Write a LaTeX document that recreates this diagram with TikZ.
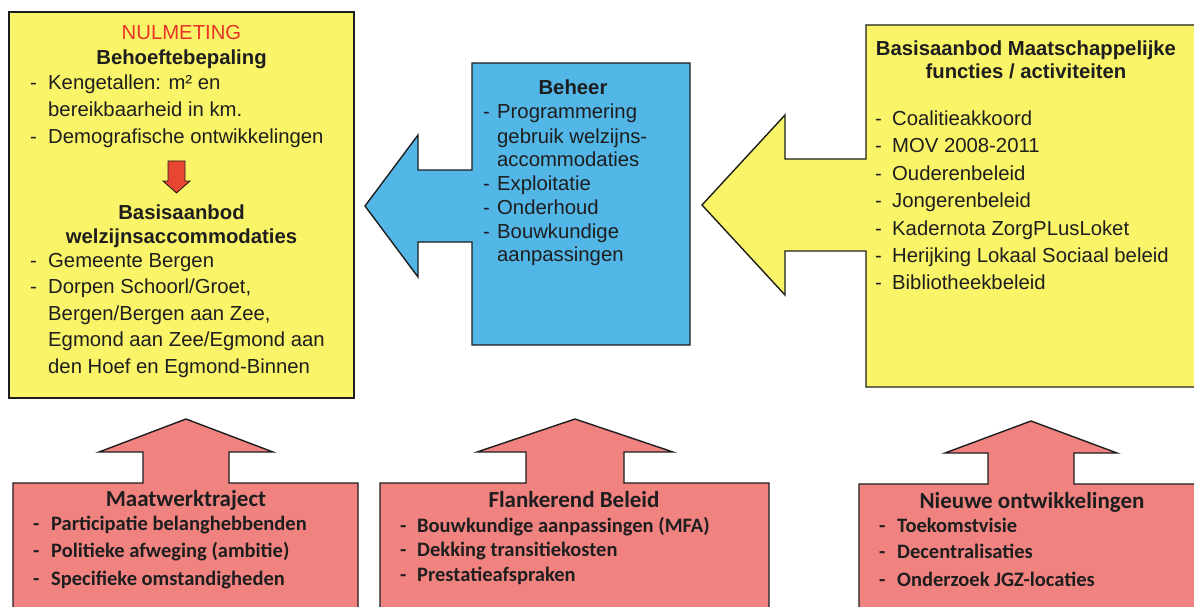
\documentclass[tikz,border=0pt]{standalone}
\usepackage{fontspec}
\setmainfont{Liberation Sans}
\newfontfamily\calib{Carlito}
\definecolor{ybox}{RGB}{250,244,104}
\definecolor{bbox}{RGB}{82,182,230}
\definecolor{pbox}{RGB}{240,130,128}
\definecolor{rarrow}{RGB}{230,70,50}
\definecolor{nulred}{RGB}{235,50,40}
\definecolor{ink}{RGB}{30,30,30}
\tikzset{
  boxshape/.style={draw=ink, line width=1.4pt, line join=miter},
  txt/.style={inner sep=0pt, anchor=base west, text=ink, font=\fontsize{20.3}{24}\selectfont},
  ctxt/.style={txt, anchor=base},
  htxt/.style={ctxt, font=\bfseries\fontsize{20.3}{24}\selectfont},
  btxt/.style={inner sep=0pt, anchor=base west, text=ink, font=\calib\bfseries\fontsize{20.5}{24}\selectfont},
  bctxt/.style={btxt, anchor=base, font=\calib\bfseries\fontsize{23}{26}\selectfont},
}
\newcommand{\bul}[2]{\makebox[#1][l]{-}#2}
\begin{document}
\begin{tikzpicture}[x=1pt,y=-1pt]
\useasboundingbox (0,0) rectangle (1194,607);
\clip (0,0) rectangle (1194,607);
% left yellow box
\draw[boxshape, fill=ybox] (9,12) rectangle (354,398);
% small red arrow
\draw[draw=ink, line width=0.8pt, fill=rarrow] (168,161) -- (185,161) -- (185,181) -- (190,181) -- (176.5,193) -- (163,181) -- (168,181) -- cycle;
% blue box with left arrow
\draw[boxshape, fill=bbox] (472,63) -- (690,63) -- (690,345) -- (472,345) -- (472,242) -- (418,242) -- (418,277) -- (365,206) -- (418,135) -- (418,170) -- (472,170) -- cycle;
% right yellow box with left arrow
\draw[boxshape, fill=ybox] (866,25) -- (1200,25) -- (1200,387) -- (866,387) -- (866,251) -- (785,251) -- (785,295) -- (702,205) -- (785,115) -- (785,159) -- (866,159) -- cycle;
% bottom pink boxes with up arrows
\draw[boxshape, fill=pbox] (13,620) -- (13,483) -- (143,483) -- (143,452) -- (99,452) -- (186,419) -- (273,452) -- (229,452) -- (229,483) -- (358,483) -- (358,620);
\draw[boxshape, fill=pbox] (380,620) -- (380,483) -- (526,483) -- (526,452) -- (477,452) -- (575,419) -- (673,452) -- (624,452) -- (624,483) -- (769,483) -- (769,620);
\draw[boxshape, fill=pbox] (859,620) -- (859,484) -- (988,484) -- (988,453) -- (945,453) -- (1031,421) -- (1117,453) -- (1074,453) -- (1074,484) -- (1200,484) -- (1200,620);

% left box text
\node[ctxt, text=nulred] (n1) at (181.5,40) {NULMETING};
\node[htxt] (n2) at (181.5,65) {Behoeftebepaling};
\node[txt] (n3) at (30,90) {\bul{18pt}{Kengetallen: m² en}};
\node[txt] (n4) at (48,116.5) {bereikbaarheid in km.};
\node[txt] (n5) at (30,143) {\bul{18pt}{Demografische ontwikkelingen}};
\node[htxt] (n6) at (181.5,219) {Basisaanbod};
\node[htxt] (n7) at (181.5,243) {welzijnsaccommodaties};
\node[txt] (n8) at (30,267) {\bul{18pt}{Gemeente Bergen}};
\node[txt] (n9) at (30,293.5) {\bul{18pt}{Dorpen Schoorl/Groet,}};
\node[txt] (n10) at (48,320) {Bergen/Bergen aan Zee,};
\node[txt] (n11) at (48,346.5) {Egmond aan Zee/Egmond aan};
\node[txt] (n12) at (48,373) {den Hoef en Egmond-Binnen};

% blue box text
\node[htxt] (b1) at (573,95) {Beheer};
\node[txt] (b2) at (483,119) {\bul{14pt}{Programmering}};
\node[txt] (b3) at (497,143) {gebruik welzijns-};
\node[txt] (b4) at (497,166) {accommodaties};
\node[txt] (b5) at (483,190) {\bul{14pt}{Exploitatie}};
\node[txt] (b6) at (483,214) {\bul{14pt}{Onderhoud}};
\node[txt] (b7) at (483,238) {\bul{14pt}{Bouwkundige}};
\node[txt] (b8) at (497,261) {aanpassingen};

% right box text
\node[htxt] (r1) at (1026,56) {Basisaanbod Maatschappelijke};
\node[htxt] (r2) at (1026,79) {functies / activiteiten};
\node[txt] (r3) at (875,126) {\bul{17pt}{Coalitieakkoord}};
\node[txt] (r4) at (875,153) {\bul{17pt}{MOV 2008-2011}};
\node[txt] (r5) at (875,180) {\bul{17pt}{Ouderenbeleid}};
\node[txt] (r6) at (875,207) {\bul{17pt}{Jongerenbeleid}};
\node[txt] (r7) at (875,235) {\bul{17pt}{Kadernota ZorgPLusLoket}};
\node[txt] (r8) at (875,262) {\bul{17pt}{Herijking Lokaal Sociaal beleid}};
\node[txt] (r9) at (875,289) {\bul{17pt}{Bibliotheekbeleid}};

% bottom box texts
\node[bctxt] (m1) at (186,506) {Maatwerktraject};
\node[btxt] (m2) at (33,530) {\bul{18pt}{Participatie belanghebbenden}};
\node[btxt] (m3) at (33,557) {\bul{18pt}{Politieke afweging (ambitie)}};
\node[btxt] (m4) at (33,585) {\bul{18pt}{Specifieke omstandigheden}};

\node[bctxt] (f1) at (574,507) {Flankerend Beleid};
\node[btxt] (f2) at (400,532) {\bul{17pt}{Bouwkundige aanpassingen (MFA)}};
\node[btxt] (f3) at (400,556) {\bul{17pt}{Dekking transitiekosten}};
\node[btxt] (f4) at (400,581) {\bul{17pt}{Prestatieafspraken}};

\node[bctxt] (o1) at (1032,508) {Nieuwe ontwikkelingen};
\node[btxt] (o2) at (879,532) {\bul{18pt}{Toekomstvisie}};
\node[btxt] (o3) at (879,558) {\bul{18pt}{Decentralisaties}};
\node[btxt] (o4) at (879,586) {\bul{18pt}{Onderzoek JGZ-locaties}};
\end{tikzpicture}
\end{document}
